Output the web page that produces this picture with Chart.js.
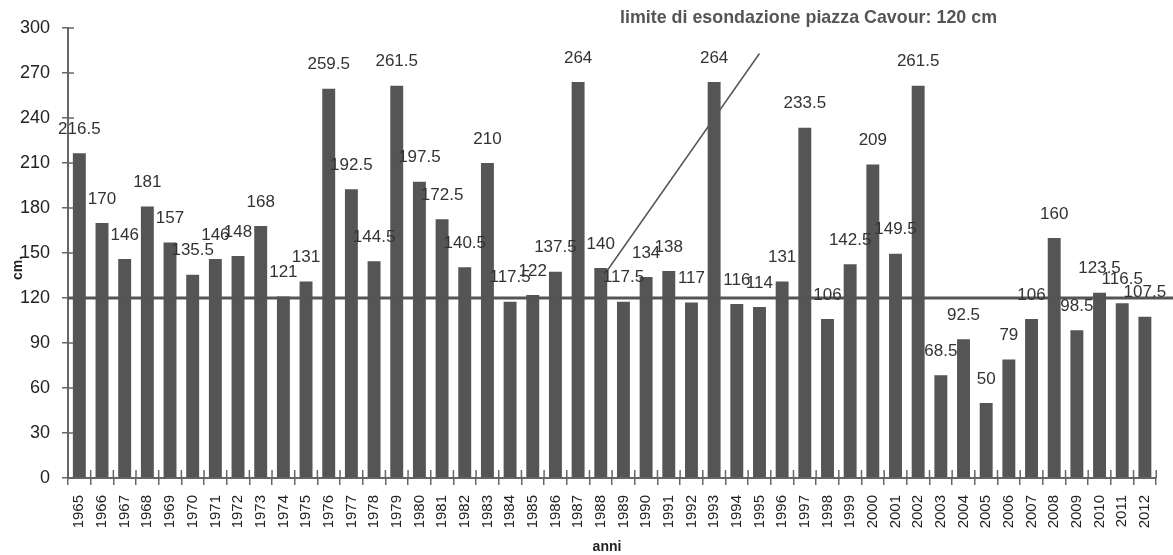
<!DOCTYPE html>
<html><head><meta charset="utf-8">
<style>html,body{margin:0;padding:0;background:#fff}canvas{display:block}</style>
<script src="https://cdn.jsdelivr.net/npm/chart.js@4/dist/chart.umd.min.js"></script>
</head><body>
<canvas id="c" width="1173" height="555"></canvas>
<script>
const years = ['1965','1966','1967','1968','1969','1970','1971','1972','1973','1974','1975','1976','1977','1978','1979','1980','1981','1982','1983','1984','1985','1986','1987','1988','1989','1990','1991','1992','1993','1994','1995','1996','1997','1998','1999','2000','2001','2002','2003','2004','2005','2006','2007','2008','2009','2010','2011','2012'];
const levels = [216.5,170,146,181,157,135.5,146,148,168,121,131,259.5,192.5,144.5,261.5,197.5,172.5,140.5,210,117.5,122,137.5,264,140,117.5,134,138,117,264,116,114,131,233.5,106,142.5,209,149.5,261.5,68.5,92.5,50,79,106,160,98.5,123.5,116.5,107.5];
const yTicks = [0,30,60,90,120,150,180,210,240,270,300];
const limitValue = 120;
const limitLabel = 'limite di esondazione piazza Cavour: 120 cm';
const pointerStart = ['1988', 135];
const pointerEnd = ['1995', 283];
const yTitle = 'cm.';
const xTitle = 'anni';

const AX = '#666';
const BAR = '#555555';

const extras = {
  id: 'extras',
  afterDatasetsDraw(chart) {
    const ctx = chart.ctx, ca = chart.chartArea;
    const xs = chart.scales.x, ys = chart.scales.y;
    ctx.save();
    // inner parts of ticks
    ctx.strokeStyle = AX; ctx.lineWidth = 1.5;
    yTicks.forEach(v => {
      const y = ys.getPixelForValue(v);
      ctx.beginPath(); ctx.moveTo(ca.left, y); ctx.lineTo(ca.left + 6, y); ctx.stroke();
    });
    const step = xs.getPixelForValue(1) - xs.getPixelForValue(0);
    for (let i = 0; i <= years.length; i++) {
      const x = xs.getPixelForValue(i) - step / 2;
      ctx.beginPath(); ctx.moveTo(x, ca.bottom); ctx.lineTo(x, ca.bottom - 8); ctx.stroke();
    }
    // limit line
    const yl = ys.getPixelForValue(limitValue);
    ctx.strokeStyle = BAR; ctx.lineWidth = 3;
    ctx.beginPath(); ctx.moveTo(ca.left, yl); ctx.lineTo(chart.width, yl); ctx.stroke();
    // pointer line
    ctx.lineWidth = 1.5;
    ctx.beginPath();
    ctx.moveTo(xs.getPixelForValue(years.indexOf(pointerStart[0])) + 3, ys.getPixelForValue(pointerStart[1]));
    ctx.lineTo(xs.getPixelForValue(years.indexOf(pointerEnd[0])), ys.getPixelForValue(pointerEnd[1]));
    ctx.stroke();
    // value labels
    ctx.fillStyle = '#333';
    ctx.font = '17px "Liberation Sans", Arial, sans-serif';
    ctx.textAlign = 'center'; ctx.textBaseline = 'middle';
    chart.getDatasetMeta(0).data.forEach((bar, i) => {
      ctx.fillText(String(levels[i]), bar.x, bar.y - 24);
    });
    // annotation text (condensed to match narrow face)
    ctx.fillStyle = '#555';
    ctx.font = 'bold 19px "Liberation Sans", Arial, sans-serif';
    ctx.textAlign = 'left'; ctx.textBaseline = 'middle';
    const w = ctx.measureText(limitLabel).width;
    ctx.save();
    ctx.translate(620, 18);
    ctx.scale(377 / w, 1);
    ctx.fillText(limitLabel, 0, 0);
    ctx.restore();
    // axis titles
    ctx.fillStyle = '#222';
    ctx.font = 'bold 14px "Liberation Sans", Arial, sans-serif';
    ctx.textAlign = 'center';
    ctx.fillText(xTitle, 607, 547);
    ctx.translate(18, 268);
    ctx.rotate(-Math.PI / 2);
    ctx.fillText(yTitle, 0, 0);
    ctx.restore();
  }
};

new Chart(document.getElementById('c'), {
  type: 'bar',
  data: {
    labels: years,
    datasets: [{ data: levels, backgroundColor: BAR, barPercentage: 0.57, categoryPercentage: 1.0 }]
  },
  options: {
    responsive: false,
    animation: false,
    devicePixelRatio: 1,
    layout: { padding: { top: 28, right: 11, left: 0, bottom: 0 } },
    plugins: { legend: { display: false }, tooltip: { enabled: false }, title: { display: false } },
    scales: {
      x: {
        grid: { display: true, offset: true, drawOnChartArea: false, drawTicks: true, tickLength: 7, color: AX, lineWidth: 1.5 },
        border: { display: true, color: AX, width: 2 },
        ticks: { minRotation: 90, maxRotation: 90, autoSkip: false, padding: 10, color: '#222',
                 font: { size: 15, family: '"Liberation Sans", Arial, sans-serif' } },
        afterFit(s) { s.height = 77; }
      },
      y: {
        min: 0, max: 300,
        afterBuildTicks(s) { s.ticks = yTicks.map(v => ({ value: v })); },
        grid: { display: true, drawOnChartArea: false, drawTicks: true, tickLength: 6, color: AX, lineWidth: 1.5 },
        border: { display: true, color: AX, width: 2 },
        ticks: { padding: 12, color: '#222', font: { size: 18, family: '"Liberation Sans", Arial, sans-serif' } },
        afterFit(s) { s.width = 68; }
      }
    }
  },
  plugins: [extras]
});
</script>
</body></html>
